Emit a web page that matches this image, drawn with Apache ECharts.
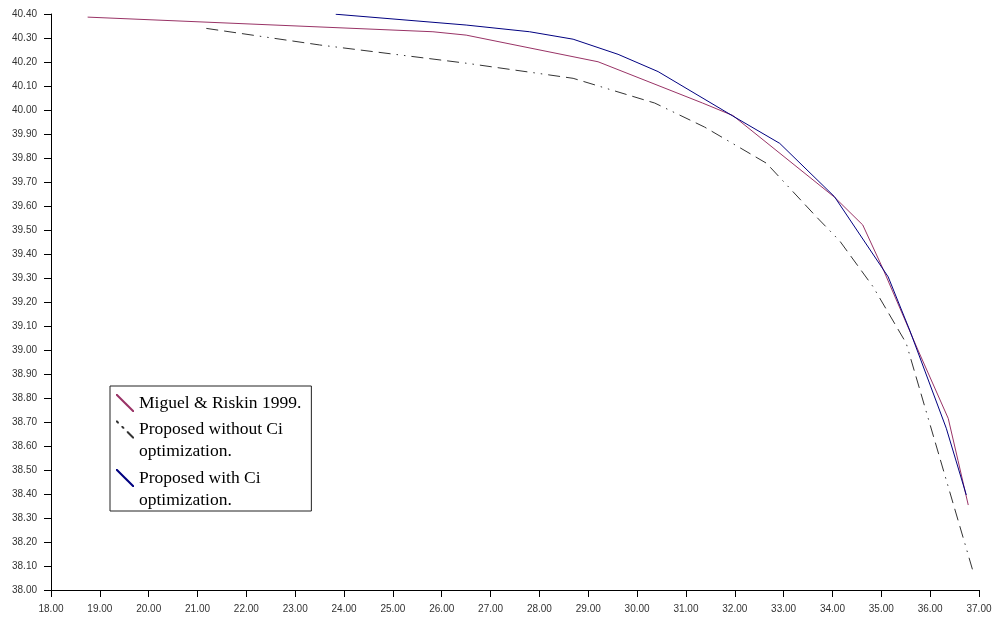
<!DOCTYPE html>
<html><head><meta charset="utf-8">
<script src="https://cdn.jsdelivr.net/npm/echarts@6/dist/echarts.min.js"></script>
<style>html,body{margin:0;padding:0;background:#fff}#c{width:994px;height:618px}</style>
</head><body><div id="c"></div>
<script>
// ---- data ----
const seriesNames = ['Miguel & Riskin 1999.', 'Proposed without Ci optimization.', 'Proposed with Ci optimization.'];
const legendLabels = ['Miguel & Riskin 1999.', 'Proposed without Ci\noptimization.', 'Proposed with Ci\noptimization.'];

const miguelX = [18.75, 25.82, 26.50, 29.20, 31.34, 31.96, 34.04, 34.62, 35.03, 35.75, 36.37, 36.57, 36.78];
const miguelY = [40.387, 40.326, 40.312, 40.201, 40.029, 39.977, 39.637, 39.521, 39.340, 39.000, 38.715, 38.540, 38.354];

const withoutX = [21.18, 23.50, 26.50, 28.69, 30.36, 31.38, 32.65, 33.67, 34.15, 34.83, 35.51, 36.88];
const withoutY = [40.340, 40.271, 40.195, 40.132, 40.029, 39.929, 39.778, 39.555, 39.454, 39.264, 39.028, 38.076];

const withX = [23.83, 26.50, 27.80, 28.69, 29.61, 30.43, 31.96, 32.92, 34.04, 35.14, 35.58, 36.33, 36.74];
const withY = [40.399, 40.354, 40.326, 40.295, 40.232, 40.160, 39.975, 39.861, 39.639, 39.305, 39.083, 38.674, 38.396];

const xMin = 18, xMax = 37, xStep = 1;
const yMin = 38, yMax = 40.4, yStep = 0.1;

// ---- styling ----
const colors = ['#993366', '#333333', '#000080'];
const solidIcon = 'path://M0,0L1.6,0L20,18.4L20,20L18.4,20L0,1.6Z';
const dashDotIcon = 'path://M0,0L1.6,0L3.2,1.6L3.2,3.2L1.6,3.2L0,1.6Z M6,6L7.6,6L9.2,7.6L9.2,9.2L7.6,9.2L6,7.6Z M12,12L13.6,12L20,18.4L20,20L18.4,20L12,13.6Z';

const pairs = (xs, ys) => xs.map((x, i) => [x, ys[i]]);
const labelFor = {};
seriesNames.forEach((n, i) => {
  const lines = legendLabels[i].split('\n');
  // leading blank line(s) keep the icon level with the first text line
  labelFor[n] = '\n'.repeat(lines.length - 1) + legendLabels[i];
});

const chart = echarts.init(document.getElementById('c'));
chart.setOption({
  animation: false,
  backgroundColor: '#fff',
  grid: { left: 51, right: 15, top: 14, bottom: 28, containLabel: false, outerBoundsMode: 'none' },
  xAxis: {
    type: 'value', min: xMin, max: xMax, interval: xStep,
    axisLine: { show: true, lineStyle: { color: '#000', width: 1 } },
    axisTick: { show: true, length: 7, lineStyle: { color: '#000' } },
    splitLine: { show: false },
    axisLabel: { margin: 14, fontSize: 10, fontFamily: 'Liberation Sans', color: '#333',
      formatter: v => v.toFixed(2), showMinLabel: true, showMaxLabel: true, hideOverlap: false }
  },
  yAxis: {
    type: 'value', min: yMin, max: yMax, interval: yStep,
    axisLine: { show: true, lineStyle: { color: '#000', width: 1 } },
    axisTick: { show: true, length: 7, lineStyle: { color: '#000' } },
    splitLine: { show: false },
    axisLabel: { margin: 14, fontSize: 10, fontFamily: 'Liberation Sans', color: '#333',
      formatter: v => v.toFixed(2), showMinLabel: true, showMaxLabel: true, hideOverlap: false }
  },
  legend: {
    orient: 'vertical', left: 110, top: 386,
    padding: [6, 10, 0, 6], itemGap: -17.5, itemWidth: 18, itemHeight: 18,
    borderColor: '#222', borderWidth: 1, backgroundColor: '#fff',
    selectedMode: false,
    itemStyle: { borderWidth: 0 },
    textStyle: { fontFamily: 'Liberation Serif', fontSize: 17.5, color: '#000', lineHeight: 22 },
    formatter: name => labelFor[name],
    data: [
      { name: seriesNames[0], icon: solidIcon },
      { name: seriesNames[1], icon: dashDotIcon },
      { name: seriesNames[2], icon: solidIcon }
    ]
  },
  series: [
    { name: seriesNames[0], type: 'line', data: pairs(miguelX, miguelY), symbol: 'none',
      color: colors[0], lineStyle: { color: colors[0], width: 1 } },
    { name: seriesNames[1], type: 'line', data: pairs(withoutX, withoutY), symbol: 'none',
      color: colors[1], lineStyle: { color: colors[1], width: 1, type: [12, 6, 12, 6, 12, 6, 1.5, 6, 1.5, 6] } },
    { name: seriesNames[2], type: 'line', data: pairs(withX, withY), symbol: 'none',
      color: colors[2], lineStyle: { color: colors[2], width: 1 } }
  ]
});
</script></body></html>
